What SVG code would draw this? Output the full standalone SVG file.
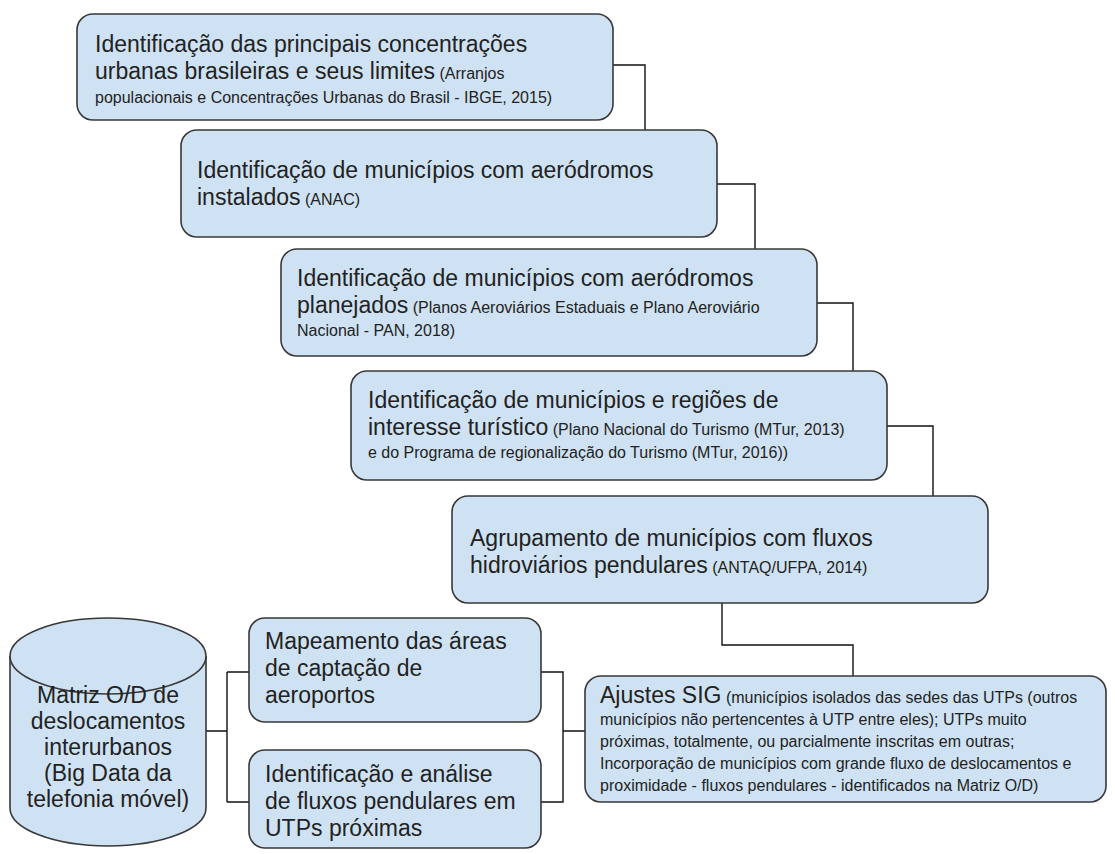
<svg xmlns="http://www.w3.org/2000/svg" width="1115" height="854" viewBox="0 0 1115 854">
<style>
.box{fill:#cfe2f3;stroke:#383838;stroke-width:1.6}
.t{font-family:"Liberation Sans",Arial,sans-serif;font-size:23px;fill:#222}
.s{font-size:16px}
.c{text-anchor:middle}
.ln{fill:none;stroke:#111;stroke-width:1.4}
</style>
<rect width="1115" height="854" fill="#fff"/>
<g id="connectors" class="ln">
<path d="M613,65 H645 V130"/>
<path d="M717,184 H755 V249"/>
<path d="M817,303 H853 V371"/>
<path d="M887,426 H933 V496"/>
<path d="M722,603 V645 H853 V676"/>
<path d="M206,731 H227 M227,672 V802 M227,672 H249 M227,802 H249"/>
<path d="M541,672 H563 V802 H541 M563,731 H585"/>
</g>
<g id="n1">
<rect class="box" x="77" y="14" width="536" height="106" rx="16"/>
<text class="t" x="95" y="52">Identificação das principais concentrações</text>
<text class="t" x="95" y="79">urbanas brasileiras e seus limites<tspan class="s"> (Arranjos</tspan></text>
<text class="t s" x="95" y="103">populacionais e Concentrações Urbanas do Brasil - IBGE, 2015)</text>
</g>
<g id="n2">
<rect class="box" x="181" y="130" width="536" height="107" rx="16"/>
<text class="t" x="197" y="178">Identificação de municípios com aeródromos</text>
<text class="t" x="197" y="205">instalados<tspan class="s"> (ANAC)</tspan></text>
</g>
<g id="n3">
<rect class="box" x="281" y="249" width="536" height="107" rx="16"/>
<text class="t" x="297" y="286">Identificação de municípios com aeródromos</text>
<text class="t" x="297" y="313">planejados<tspan class="s"> (Planos Aeroviários Estaduais e Plano Aeroviário</tspan></text>
<text class="t s" x="297" y="336">Nacional - PAN, 2018)</text>
</g>
<g id="n4">
<rect class="box" x="351" y="371" width="536" height="109" rx="16"/>
<text class="t" x="368" y="408">Identificação de municípios e regiões de</text>
<text class="t" x="368" y="435">interesse turístico<tspan class="s"> (Plano Nacional do Turismo (MTur, 2013)</tspan></text>
<text class="t s" x="368" y="458">e do Programa de regionalização do Turismo (MTur, 2016))</text>
</g>
<g id="n5">
<rect class="box" x="452" y="496" width="536" height="107" rx="16"/>
<text class="t" x="470" y="546">Agrupamento de municípios com fluxos</text>
<text class="t" x="470" y="573">hidroviários pendulares<tspan class="s"> (ANTAQ/UFPA, 2014)</tspan></text>
</g>
<g id="db">
<path class="box" d="M10,656 V808 A98,38 0 0 0 206,808 V656"/>
<ellipse class="box" cx="108" cy="656" rx="98" ry="38"/>
<text class="t c" x="108" y="703">Matriz O/D de</text>
<text class="t c" x="108" y="729">deslocamentos</text>
<text class="t c" x="108" y="755">interurbanos</text>
<text class="t c" x="108" y="781">(Big Data da</text>
<text class="t c" x="108" y="807">telefonia móvel)</text>
</g>
<g id="n6">
<rect class="box" x="249" y="618" width="292" height="104" rx="16"/>
<text class="t" x="265" y="649">Mapeamento das áreas</text>
<text class="t" x="265" y="676">de captação de</text>
<text class="t" x="265" y="703">aeroportos</text>
</g>
<g id="n7">
<rect class="box" x="249" y="750" width="292" height="98" rx="16"/>
<text class="t" x="265" y="782">Identificação e análise</text>
<text class="t" x="265" y="809">de fluxos pendulares em</text>
<text class="t" x="265" y="836">UTPs próximas</text>
</g>
<g id="n8">
<rect class="box" x="585" y="676" width="521" height="126" rx="16"/>
<text class="t" x="600" y="703">Ajustes SIG<tspan class="s"> (municípios isolados das sedes das UTPs (outros</tspan></text>
<text class="t s" x="600" y="725">municípios não pertencentes à UTP entre eles); UTPs muito</text>
<text class="t s" x="600" y="747">próximas, totalmente, ou parcialmente inscritas em outras;</text>
<text class="t s" x="600" y="769">Incorporação de municípios com grande fluxo de deslocamentos e</text>
<text class="t s" x="600" y="791">proximidade - fluxos pendulares - identificados na Matriz O/D)</text>
</g>
</svg>
